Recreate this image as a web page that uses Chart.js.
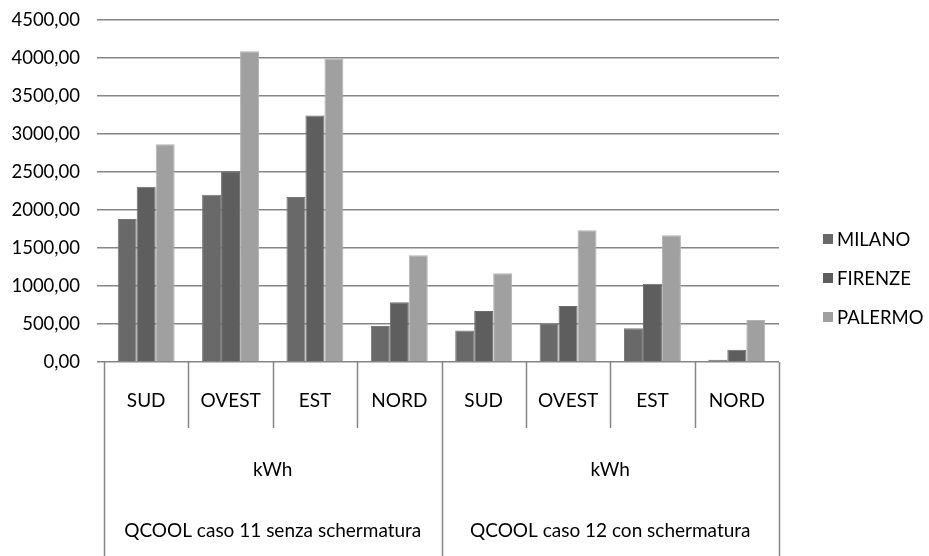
<!DOCTYPE html>
<html>
<head>
<meta charset="utf-8">
<script src="https://cdn.jsdelivr.net/npm/chart.js@4/dist/chart.umd.min.js"></script>
<style>
  html, body { margin: 0; padding: 0; background: #fff; }
  #wrap { width: 929px; height: 556px; }
</style>
</head>
<body>
<div id="wrap"><canvas id="chart" width="929" height="556"></canvas></div>
<script>
'use strict';

// categorie (livello 1, 2, 3 dell'asse)
const directions = ['SUD', 'OVEST', 'EST', 'NORD', 'SUD', 'OVEST', 'EST', 'NORD'];
const units = ['kWh', 'kWh'];
const cases = ['QCOOL caso 11 senza schermatura', 'QCOOL caso 12 con schermatura'];

// valori kWh
const milano = [1880, 2200, 2170, 475, 415, 500, 445, 28];
const firenze = [2305, 2510, 3245, 785, 672, 738, 1030, 162];
const palermo = [2865, 4090, 3995, 1405, 1168, 1733, 1668, 553];

const yTicks = [0, 500, 1000, 1500, 2000, 2500, 3000, 3500, 4000, 4500];

const FONT = 'Lato';
const SIZE = 18.5;
const AXIS = '#868686';

const series = [
  { label: 'MILANO', data: milano, bg: '#696969', border: '#777777' },
  { label: 'FIRENZE', data: firenze, bg: '#5e5e5e', border: '#6c6c6c' },
  { label: 'PALERMO', data: palermo, bg: '#a0a0a0', border: '#b3b3b3' },
];

// asse categorie a più livelli + legenda
const multiAxis = {
  id: 'multiAxis',
  afterDraw(chart) {
    const { ctx, chartArea } = chart;
    const x = chart.scales.x;
    const n = directions.length;
    const half = (x.getPixelForValue(1) - x.getPixelForValue(0)) / 2;
    const bounds = [];
    for (let i = 0; i < n; i++) bounds.push(x.getPixelForValue(i) - half);
    bounds.push(x.getPixelForValue(n - 1) + half);
    const y0 = chartArea.bottom;

    ctx.save();
    ctx.strokeStyle = AXIS;
    ctx.lineWidth = 1.5;
    bounds.forEach((bx, i) => {
      const full = i % 4 === 0;
      ctx.beginPath();
      ctx.moveTo(Math.round(bx) + 0.5, y0);
      ctx.lineTo(Math.round(bx) + 0.5, full ? 556 : 428);
      ctx.stroke();
    });

    ctx.fillStyle = '#000';
    ctx.font = `19px ${FONT}`;
    ctx.textAlign = 'center';
    ctx.textBaseline = 'middle';
    directions.forEach((d, i) => {
      ctx.fillText(d, x.getPixelForValue(i), 401);
    });
    for (let g = 0; g < 2; g++) {
      const cx = (bounds[g * 4] + bounds[g * 4 + 4]) / 2;
      ctx.fillText(units[g], cx, 470);
      ctx.fillText(cases[g], cx, 531);
    }

    // legenda
    ctx.font = `${SIZE}px ${FONT}`;
    ctx.textAlign = 'left';
    series.forEach((s, i) => {
      const ly = 239 + i * 39;
      ctx.fillStyle = s.bg;
      ctx.fillRect(823, ly - 5, 10, 10);
      ctx.fillStyle = '#000';
      ctx.fillText(s.label, 837, ly + 1);
    });
    ctx.restore();
  },
};

new Chart(document.getElementById('chart'), {
  type: 'bar',
  data: {
    labels: directions,
    datasets: series.map(s => ({
      label: s.label,
      data: s.data,
      backgroundColor: s.bg,
      borderColor: s.border,
      borderWidth: 1,
      categoryPercentage: 0.675,
      barPercentage: 1,
    })),
  },
  options: {
    responsive: false,
    animation: false,
    layout: { padding: { top: 20, right: 150, bottom: 194, left: 0 } },
    plugins: {
      legend: { display: false },
      tooltip: { enabled: false },
    },
    scales: {
      x: { display: false },
      y: {
        min: 0,
        max: 4500,
        afterBuildTicks: axis => {
          axis.ticks = yTicks.map(v => ({ value: v }));
        },
        afterFit: axis => {
          axis.width = 104;
          axis.paddingTop = 0;
          axis.paddingBottom = 0;
        },
        border: { display: false },
        grid: { color: AXIS, lineWidth: 1.5, tickLength: 7, drawTicks: true },
        ticks: {
          color: '#000',
          padding: 17,
          font: { family: FONT, size: SIZE },
          callback: v => v.toFixed(2).replace('.', ','),
        },
      },
    },
  },
  plugins: [multiAxis],
});
</script>
</body>
</html>
